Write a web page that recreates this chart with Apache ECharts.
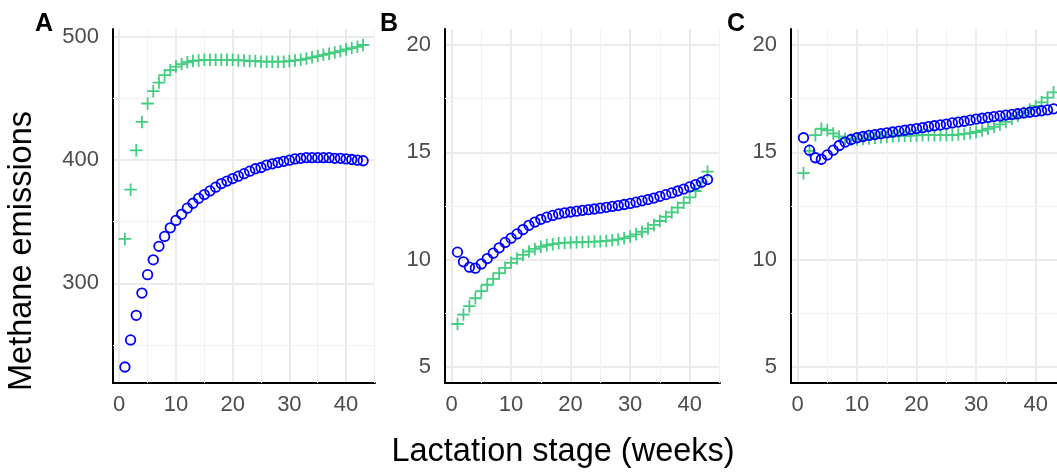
<!DOCTYPE html>
<html>
<head>
<meta charset="utf-8">
<script src="https://cdn.jsdelivr.net/npm/echarts@6/dist/echarts.min.js"></script>
<style>
  html, body { margin: 0; padding: 0; background: #fff; }
  #chart { width: 1057px; height: 472px; }
</style>
</head>
<body>
<div id="chart"></div>
<script>
  // lactation weeks
  var weeks = [1, 2, 3, 4, 5, 6, 7, 8, 9, 10, 11, 12, 13, 14, 15, 16, 17, 18, 19, 20, 21,
    22, 23, 24, 25, 26, 27, 28, 29, 30, 31, 32, 33, 34, 35, 36, 37, 38, 39, 40, 41, 42, 43];

  // panel A
  var blueA = [232, 254, 274, 292, 307, 319, 330, 338, 345, 351, 356, 361, 365, 369, 372, 375,
    378, 381, 383, 385, 387, 389, 391, 393, 394, 396, 397, 398, 399, 400, 401, 401.5, 402, 402,
    402, 402, 402, 401.5, 401.5, 401, 400.5, 400, 399.5];
  var greenA = [336, 376, 408, 431, 446, 456, 463, 469, 473, 476, 478, 479.5, 480.5, 481, 481.5,
    481.5, 481.5, 481.5, 481.5, 481.5, 481, 481, 480.5, 480.5, 480, 480, 480, 480, 480, 480.5,
    481, 481.5, 482.5, 483.5, 484.5, 485.5, 486.5, 487.5, 488.5, 490, 491, 492, 493.5];

  // panel B
  var blueB = [10.35, 9.9, 9.65, 9.6, 9.8, 10.05, 10.3, 10.55, 10.8, 11.0, 11.2, 11.4, 11.6, 11.75,
    11.88, 11.98, 12.06, 12.13, 12.18, 12.22, 12.26, 12.3, 12.33, 12.36, 12.4, 12.44, 12.48, 12.52,
    12.57, 12.62, 12.68, 12.74, 12.8, 12.87, 12.95, 13.03, 13.11, 13.2, 13.29, 13.39, 13.5, 13.61, 13.73];
  var greenB = [7.0, 7.44, 7.83, 8.2, 8.53, 8.83, 9.1, 9.37, 9.62, 9.85, 10.05, 10.22, 10.38, 10.5,
    10.6, 10.67, 10.72, 10.76, 10.78, 10.8, 10.81, 10.82, 10.83, 10.84, 10.85, 10.87, 10.9, 10.94,
    11.0, 11.08, 11.18, 11.3, 11.45, 11.62, 11.8, 12.0, 12.2, 12.42, 12.65, 12.9, 13.2, 13.6, 14.1];

  // panel C
  var blueC = [15.68, 15.1, 14.75, 14.68, 14.88, 15.1, 15.32, 15.48, 15.6, 15.68, 15.74, 15.79,
    15.83, 15.87, 15.91, 15.95, 15.99, 16.03, 16.07, 16.11, 16.15, 16.2, 16.24, 16.28, 16.32, 16.37,
    16.41, 16.45, 16.5, 16.55, 16.59, 16.63, 16.67, 16.7, 16.74, 16.77, 16.8, 16.84, 16.87, 16.9,
    16.94, 16.98, 17.03];
  var greenC = [14.03, 15.07, 15.8, 16.1, 16.03, 15.88, 15.74, 15.64, 15.6, 15.6, 15.62, 15.65,
    15.68, 15.7, 15.72, 15.74, 15.76, 15.77, 15.78, 15.79, 15.8, 15.8, 15.8, 15.8, 15.8, 15.81,
    15.83, 15.86, 15.9, 15.95, 16.02, 16.1, 16.19, 16.3, 16.42, 16.56, 16.7, 16.85, 17.0, 17.16,
    17.33, 17.55, 17.8];

  var panelLabels = ['A', 'B', 'C'];
  var xMinor = [5, 15, 25, 35, 45];
  var yMinorA = [250, 350, 450];
  var yMinorBC = [7.5, 12.5, 17.5];

  var font = "'Liberation Sans', Arial, sans-serif";
  var blue = '#0000ff';
  var green = '#43cd80';

  var chart = echarts.init(document.getElementById('chart'), null, { renderer: 'canvas' });

  var grids = [
    { left: 113, top: 29, width: 262, height: 354 },
    { left: 445, top: 29, width: 275, height: 354 },
    { left: 791, top: 29, width: 275, height: 354 }
  ];
  grids.forEach(function (g) { g.outerBoundsMode = 'none'; g.containLabel = false; });

  function xAxisFor(i) {
    return {
      type: 'value', gridIndex: i, min: -1.1, max: 45.1, splitNumber: 5,
      axisLine: { show: true, onZero: false, lineStyle: { color: '#000', width: 2 } },
      axisTick: { show: false },
      axisLabel: { color: '#4d4d4d', fontSize: 22, fontFamily: font, margin: 11,
        showMinLabel: false, showMaxLabel: false },
      splitLine: { show: true, showMinLine: false, showMaxLine: false,
        lineStyle: { color: '#ebebeb', width: 2 } }
    };
  }
  function yAxisFor(i, min, max) {
    return {
      type: 'value', gridIndex: i, min: min, max: max, splitNumber: 3,
      axisLine: { show: true, onZero: false, lineStyle: { color: '#000', width: 2 } },
      axisTick: { show: false },
      axisLabel: { color: '#4d4d4d', fontSize: 22, fontFamily: font, margin: 14,
        showMinLabel: false, showMaxLabel: false },
      splitLine: { show: true, showMinLine: false, showMaxLine: false,
        lineStyle: { color: '#ebebeb', width: 2 } }
    };
  }

  function minorLines(yMinor) {
    var d = [];
    xMinor.forEach(function (v) { d.push({ xAxis: v }); });
    yMinor.forEach(function (v) { d.push({ yAxis: v }); });
    return {
      silent: true, symbol: 'none', z: 1, animation: false,
      label: { show: false },
      lineStyle: { color: '#f2f2f2', width: 1, type: 'solid' },
      emphasis: { disabled: true },
      data: d
    };
  }

  function pairs(vals) {
    return weeks.map(function (w, i) { return [w, vals[i]]; });
  }

  var crossPath = 'path://M6,0V12M0,6H12';

  function blueSeries(i, vals, yMinor) {
    return {
      type: 'scatter', xAxisIndex: i, yAxisIndex: i, data: pairs(vals),
      symbol: 'circle', symbolSize: 9.5, z: 3,
      itemStyle: { color: 'rgba(0,0,0,0)', borderColor: blue, borderWidth: 1.8, opacity: 1 },
      emphasis: { disabled: true },
      markLine: minorLines(yMinor)
    };
  }
  function greenSeries(i, vals) {
    return {
      type: 'scatter', xAxisIndex: i, yAxisIndex: i, data: pairs(vals),
      symbol: crossPath, symbolSize: 12.5, z: 2,
      itemStyle: { color: 'rgba(0,0,0,0)', borderColor: green, borderWidth: 1.8, opacity: 1 },
      emphasis: { disabled: true }
    };
  }

  var labelX = [35, 380, 727];
  var graphics = panelLabels.map(function (t, i) {
    return {
      type: 'text', left: labelX[i], top: 12,
      style: { text: t, fontSize: 25, fontWeight: 'bold', fontFamily: font, fill: '#000' }
    };
  });
  graphics.push({
    type: 'text', x: 22, y: 251, rotation: Math.PI / 2,
    style: { text: 'Methane emissions', fontSize: 32.5, fontFamily: font, fill: '#000',
      textAlign: 'center', textVerticalAlign: 'middle' }
  });
  graphics.push({
    type: 'text', x: 563, y: 452,
    style: { text: 'Lactation stage (weeks)', fontSize: 32.5, fontFamily: font, fill: '#000',
      textAlign: 'center', textVerticalAlign: 'middle' }
  });

  chart.setOption({
    animation: false,
    backgroundColor: '#fff',
    grid: grids,
    xAxis: [xAxisFor(0), xAxisFor(1), xAxisFor(2)],
    yAxis: [yAxisFor(0, 219, 506.5), yAxisFor(1, 4.25, 20.75), yAxisFor(2, 4.25, 20.75)],
    series: [
      greenSeries(0, greenA), blueSeries(0, blueA, yMinorA),
      greenSeries(1, greenB), blueSeries(1, blueB, yMinorBC),
      greenSeries(2, greenC), blueSeries(2, blueC, yMinorBC)
    ],
    graphic: graphics
  });
</script>
</body>
</html>
